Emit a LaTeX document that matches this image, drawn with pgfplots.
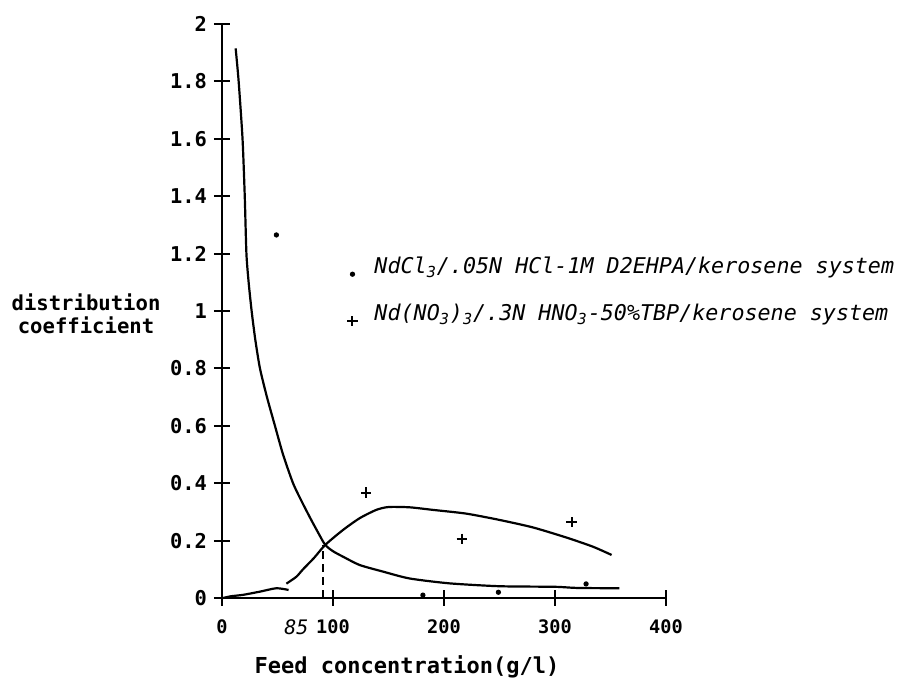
\documentclass[border=0pt]{standalone}
\usepackage{fontspec}
\setmainfont{DejaVu Sans Mono}
\setmonofont{DejaVu Sans Mono}
\usepackage{pgfplots}
\pgfplotsset{compat=1.18}

\begin{document}
\begin{tikzpicture}
\useasboundingbox (-111pt,-40pt) rectangle (338pt,299pt);
\begin{axis}[
  at={(0,0)}, anchor=south west,
  width=222pt, height=287pt, scale only axis,
  xmin=0, xmax=400, ymin=0, ymax=2,
  axis lines=left, axis line style={-, line width=1.3pt},
  xtick={0,100,200,300,400},
  ytick={0,0.2,0.4,0.6,0.8,1,1.2,1.4,1.6,1.8,2},
  tick align=center, major tick length=8pt,
  tick style={line width=1pt, black},
  /pgf/number format/assume math mode=true,
  xticklabel style={font=\fontsize{9.3}{10}\selectfont\bfseries, yshift=-3.5pt},
  yticklabel style={font=\fontsize{10.2}{11}\selectfont\bfseries},
  clip=false,
  legend style={at={(axis description cs:0.2813,0.597)}, anchor=north west,
    draw=none, fill=none, inner sep=0pt, row sep=11pt,
    font=\fontsize{10.85}{13}\selectfont\itshape,
    nodes={inner sep=1pt, text height=0.8em, text depth=0.25em},
    cells={anchor=west}},
  legend image code/.code={
    \draw[#1] plot coordinates {(0pt,-3pt)};
    \path[draw=none] (-1pt,0pt) -- (10pt,0pt);},
]
% NdCl3 data points
\addplot[only marks, mark=*, mark size=1.1pt, black] coordinates {
  (49,1.265) (181,0.01) (249,0.02) (328,0.049)};
\addlegendentry{NdCl\textsubscript{3}/.05N HCl-1M D2EHPA/kerosene system}
% Nd(NO3)3 data points
\addplot[only marks, mark=+, mark size=2.6pt, line width=1pt, black] coordinates {
  (130,0.367) (216,0.206) (315,0.264)};
\addlegendentry{Nd(NO\textsubscript{3})\textsubscript{3}/.3N HNO\textsubscript{3}-50\%TBP/kerosene system}

% NdCl3 curve
\addplot[black, line width=1.1pt, smooth, tension=0.4, forget plot] coordinates {
  (12.3,1.915) (15,1.80) (18.5,1.6) (20.5,1.4) (22,1.2) (24,1.1) (26.7,1.0)
  (30,0.9) (34.2,0.8) (40.5,0.7) (47.7,0.6) (55,0.5) (64,0.4) (72,0.335)
  (80,0.275) (87,0.225) (93,0.185) (100,0.163) (109,0.144) (124,0.115)
  (145,0.092) (169,0.068) (205,0.051) (250,0.041) (300,0.039) (320,0.035)
  (358,0.034)};
% Nd(NO3)3 curve
\addplot[black, line width=1.1pt, smooth, tension=0.4, forget plot] coordinates {
  (1,0) (8,0.006) (19,0.011) (34,0.022) (49,0.034) (60,0.028)};
\addplot[black, line width=1.1pt, smooth, tension=0.4, forget plot] coordinates {
  (58,0.05) (67,0.074) (73,0.1) (83,0.14) (93,0.185) (109,0.237) (124,0.278)
  (139,0.307) (150,0.317) (169,0.316) (190,0.307) (220,0.294) (250,0.272)
  (280,0.246) (310,0.211) (334,0.179) (351,0.15)};
% intersection marker
\addplot[black, line width=1pt, dash pattern=on 4pt off 2.5pt, forget plot] coordinates {
  (91,0) (91,0.185)};

\node[font=\fontsize{10}{12}\selectfont\itshape] at (axis cs:67,-0.101) {85};
\node[font=\fontsize{11}{13}\selectfont\bfseries] at (axis cs:166.7,-0.240) {Feed concentration(g/l)};
\node[font=\fontsize{10.3}{11.5}\selectfont\bfseries, align=center] at (axis cs:-122.5,0.991) {distribution\\coefficient};
\end{axis}
\end{tikzpicture}
\end{document}
